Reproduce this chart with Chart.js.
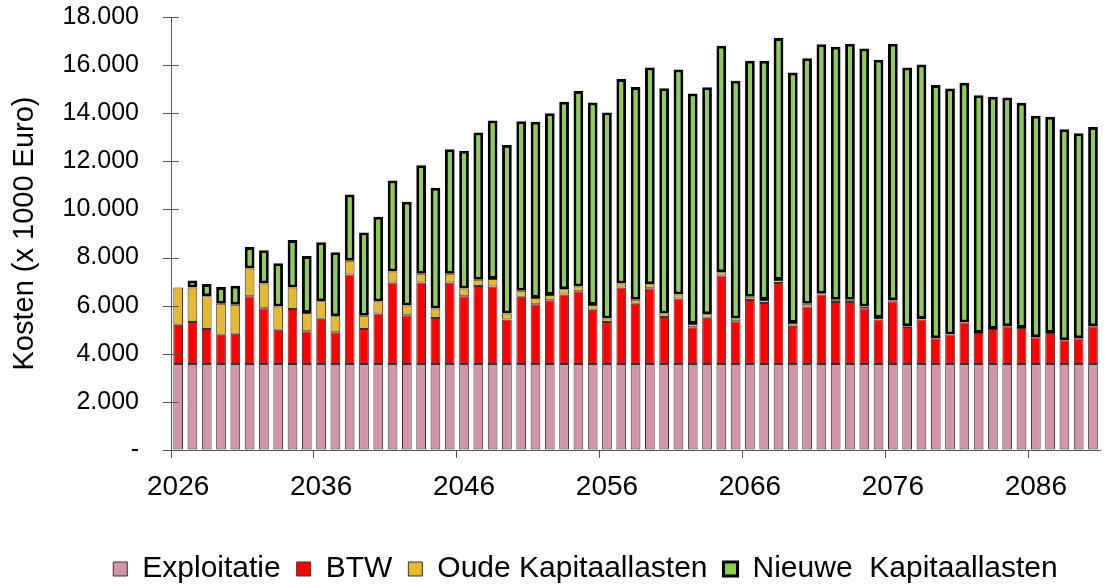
<!DOCTYPE html>
<html>
<head>
<meta charset="utf-8">
<script src="https://cdn.jsdelivr.net/npm/chart.js@4/dist/chart.umd.min.js"></script>
<style>
  body { margin: 0; background: #fff; }
  #wrap { width: 1105px; height: 587px; }
</style>
</head>
<body>
<div id="wrap"><canvas id="kostenChart" width="1105" height="587"></canvas></div>
<script>
const years = ['2026','2027','2028','2029','2030','2031','2032','2033','2034','2035',
    '2036','2037','2038','2039','2040','2041','2042','2043','2044','2045',
    '2046','2047','2048','2049','2050','2051','2052','2053','2054','2055',
    '2056','2057','2058','2059','2060','2061','2062','2063','2064','2065',
    '2066','2067','2068','2069','2070','2071','2072','2073','2074','2075',
    '2076','2077','2078','2079','2080','2081','2082','2083','2084','2085',
    '2086','2087','2088','2089','2090'];

const exploitatie = [3580,3580,3580,3580,3580,3580,3580,3580,3580,3580,
    3580,3580,3580,3580,3580,3580,3580,3580,3580,3580,
    3580,3580,3580,3580,3580,3580,3580,3580,3580,3580,
    3580,3580,3580,3580,3580,3580,3580,3580,3580,3580,
    3580,3580,3580,3580,3580,3580,3580,3580,3580,3580,
    3580,3580,3580,3580,3580,3580,3580,3580,3580,3580,
    3580,3580,3580,3580,3580];

const btw = [1630,1740,1450,1210,1250,2810,2310,1420,2280,1360,
    1880,1320,3720,1450,2090,3380,2020,3380,1910,3380,
    2810,3240,3220,1840,2790,2480,2640,2880,3020,2250,
    1740,3180,2500,3140,1950,2720,1520,1920,3670,1770,
    2660,2530,3360,1590,2390,2880,2570,2570,2310,1840,
    2600,1530,1840,1070,1220,1720,1280,1450,1560,1490,
    1110,1280,980,1070,1560];

const oudeKapitaallasten = [1550,1440,1360,1290,1210,1150,1030,970,900,750,
    720,660,570,550,500,460,410,370,390,370,
    320,260,310,250,250,260,220,220,200,200,
    150,160,170,170,140,160,140,140,140,120,
    130,130,130,110,110,40,100,100,80,70,
    40,30,30,0,0,0,0,0,0,0,
    0,0,0,0,0];

const nieuweKapitaallasten = [0,290,510,700,790,900,1380,1790,1970,2370,
    2460,2660,2750,3460,3530,3780,4310,4510,5020,5170,
    5730,6120,6590,7010,7050,7330,7560,7800,8120,8420,
    8560,8500,8840,9010,9370,9360,9580,9440,9410,9880,
    9810,9940,10060,10410,10210,10370,10510,10640,10720,10730,
    10670,10760,10580,10520,10230,9970,9890,9650,9510,9370,
    9200,8990,8770,8520,8290];

const yTicks = [0,2000,4000,6000,8000,10000,12000,14000,16000,18000];

const fontFamily = 'Arial, "Liberation Sans", sans-serif';

function formatThousands(v) {
    if (v === 0) return '-';
    return String(v).replace(/\B(?=(\d{3})+(?!\d))/g, '.');
}

// Excel-style tick marks that cross the y axis (8px out, 8px in)
const crossTicks = {
    id: 'crossTicks',
    afterDraw(chart) {
        const ctx = chart.ctx;
        const y = chart.scales.y;
        const left = chart.chartArea.left;
        ctx.save();
        ctx.strokeStyle = '#555';
        ctx.lineWidth = 1;
        yTicks.forEach(function (t) {
            const py = Math.round(y.getPixelForValue(t)) + 0.5;
            ctx.beginPath();
            ctx.moveTo(left - 8, py);
            ctx.lineTo(left + 8, py);
            ctx.stroke();
        });
        ctx.restore();
    }
};

// push the legend block a bit to the right and down like in the original
const shiftLegend = {
    id: 'shiftLegend',
    afterLayout(chart) {
        const lg = chart.legend;
        const h = lg.bottom - lg.top;
        lg.left = 66;
        lg.right = 1105;
        lg.top = 587 - h + 7;
        lg.bottom = 594;
    }
};

const ctx = document.getElementById('kostenChart').getContext('2d');
const kostenChart = new Chart(ctx, {
    type: 'bar',
    data: {
        labels: years,
        datasets: [{
            label: 'Exploitatie',
            data: exploitatie,
            backgroundColor: '#D194A9',
            borderColor: '#333',
            borderWidth: 1,
            borderSkipped: false
        }, {
            label: 'BTW',
            data: btw,
            backgroundColor: '#FF0000',
            borderColor: '#333',
            borderWidth: 1,
            borderSkipped: false
        }, {
            label: 'Oude Kapitaallasten',
            data: oudeKapitaallasten,
            backgroundColor: '#E6B830',
            borderColor: '#333',
            borderWidth: 1,
            borderSkipped: false
        }, {
            label: 'Nieuwe  Kapitaallasten',
            data: nieuweKapitaallasten,
            backgroundColor: '#8DCD51',
            borderColor: '#000',
            borderWidth: 3,
            borderSkipped: false
        }]
    },
    options: {
        responsive: false,
        animation: false,
        datasets: {
            bar: { categoryPercentage: 1, barPercentage: 0.68 }
        },
        layout: { padding: { top: 0, right: 2, bottom: 0, left: 0 } },
        plugins: {
            tooltip: { enabled: false },
            legend: {
                position: 'bottom',
                labels: {
                    color: '#000',
                    boxWidth: 14,
                    boxHeight: 14,
                    padding: 16,
                    font: { family: fontFamily, size: 30 }
                }
            }
        },
        scales: {
            x: {
                stacked: true,
                offset: true,
                border: { color: '#555', width: 1 },
                grid: {
                    offset: true,
                    drawOnChartArea: false,
                    drawTicks: true,
                    tickLength: 8,
                    color: function (c) { return c.index % 10 === 0 ? '#555' : 'rgba(0,0,0,0)'; }
                },
                ticks: {
                    autoSkip: false,
                    maxRotation: 0,
                    minRotation: 0,
                    padding: 12,
                    color: '#000',
                    font: { family: fontFamily, size: 28 },
                    callback: function (v, i) { return i % 10 === 0 ? years[i] : ''; }
                },
                afterFit: function (scale) {
                    scale.height = 587 - scale.chart.legend.height - 450;
                }
            },
            y: {
                stacked: true,
                min: 0,
                max: 18000,
                border: { color: '#555', width: 1 },
                grid: {
                    drawOnChartArea: false,
                    drawTicks: true,
                    tickLength: 30,
                    tickColor: 'rgba(0,0,0,0)'
                },
                ticks: {
                    stepSize: 2000,
                    padding: 2,
                    color: '#000',
                    font: { family: fontFamily, size: 25 },
                    callback: function (v) { return formatThousands(v); }
                },
                title: {
                    display: true,
                    text: 'Kosten (x 1000 Euro)',
                    color: '#000',
                    padding: { top: 8, bottom: 0 },
                    font: { family: fontFamily, size: 29 }
                },
                afterFit: function (scale) { scale.width = 171; }
            }
        }
    },
    plugins: [crossTicks, shiftLegend]
});
</script>
</body>
</html>
